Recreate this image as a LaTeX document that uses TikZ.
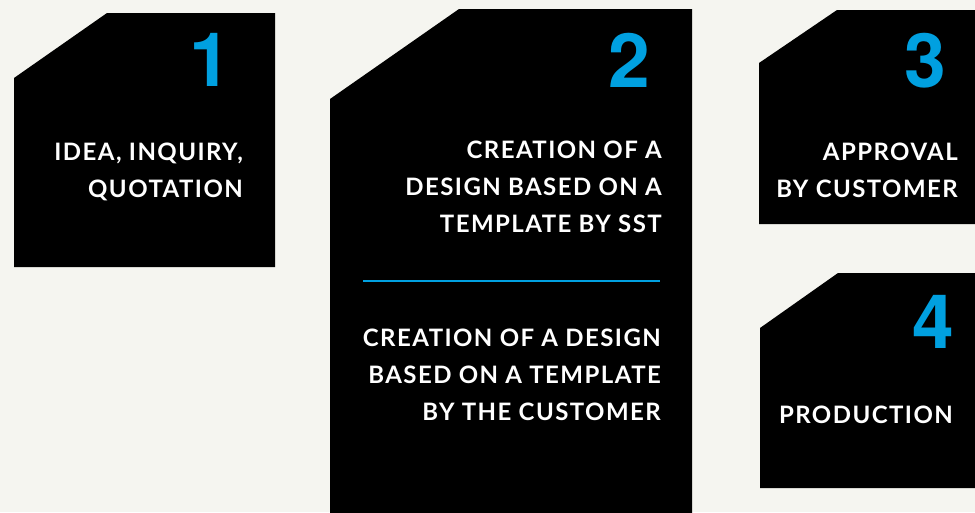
\documentclass[tikz,border=0pt]{standalone}
\usepackage{fontspec}
\setmainfont{Lato}[LetterSpace=6]
\newfontfamily\numfont{TeX Gyre Heros}
\usepackage{xcolor}
\usepackage{tikz}
\definecolor{paper}{RGB}{245,245,240}
\definecolor{stepblue}{RGB}{0,160,224}

\begin{document}
\begin{tikzpicture} [x=1pt,y=-1pt,
  card/.style={fill=black},
  num/.style={anchor=base east,inner sep=0pt,text=stepblue,font=\numfont\bfseries\fontsize{75}{75}\selectfont},
  caption/.style={anchor=base east,inner sep=0pt,text=white,align=right,font=\bfseries\fontsize{24}{37}\selectfont}]

\useasboundingbox (0,0) rectangle (975,512);
\clip (0,0) rectangle (975,512);
\fill[paper] (0,0) rectangle (975,512);

% cards
\fill[card] (14,78) -- (107,13) -- (275,13) -- (275,267) -- (14,267) -- cycle;
\fill[card] (330,99) -- (459,9) -- (692,9) -- (692,520) -- (330,520) -- cycle;
\fill[card] (759,63) -- (837,10) -- (980,10) -- (980,224) -- (759,224) -- cycle;
\fill[card] (760,328) -- (838,273) -- (980,273) -- (980,488) -- (760,488) -- cycle;

% numbers
\node[num] (n1) at (231,86) {1};
\node[num] (n2) at (650,87) {2};
\node[num] (n3) at (946,87) {3};
\node[num] (n4) at (954,348) {4};

% texts (anchored at the last line)
\node[caption] (idea) at (243,197) {IDEA, INQUIRY,\\QUOTATION};
\node[caption] (sst) at (662,232) {CREATION OF A\\DESIGN BASED ON A\\TEMPLATE BY SST};
\node[caption] (cust) at (661,420) {CREATION OF A DESIGN\\BASED ON A TEMPLATE\\BY THE CUSTOMER};
\node[caption] (appr) at (958,197) {APPROVAL\\BY CUSTOMER};
\node[caption] (prod) at (953,423) {PRODUCTION};

\coordinate (l) at (363,281);
\coordinate (r) at (660,281);
\draw[stepblue,line width=2.5pt] (l)--(r);

\end{tikzpicture}
\end{document}
